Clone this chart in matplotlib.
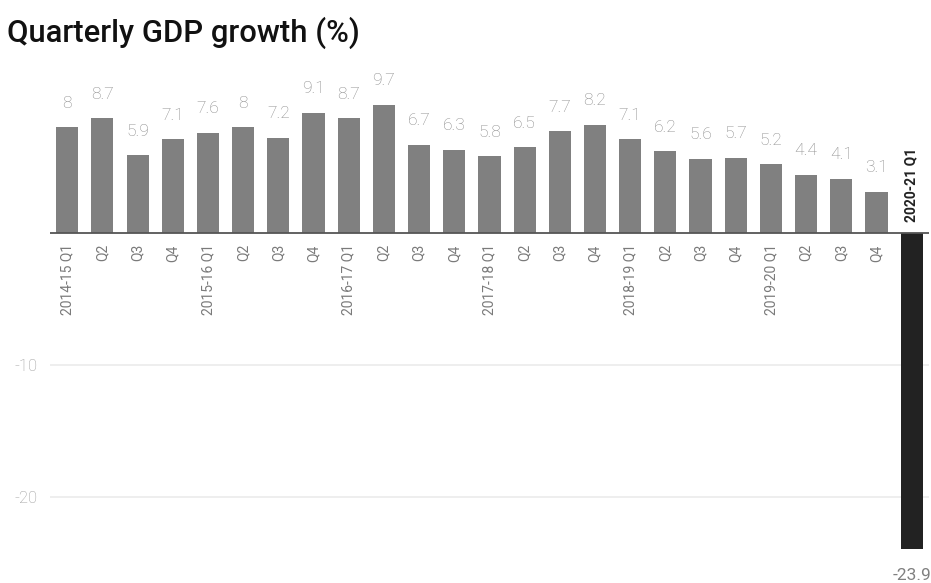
import matplotlib
matplotlib.use("Agg")
import matplotlib.pyplot as plt
import numpy as np

plt.rcParams['font.family'] = ['Roboto', 'DejaVu Sans']

quarters = ["2014-15 Q1", "Q2", "Q3", "Q4",
            "2015-16 Q1", "Q2", "Q3", "Q4",
            "2016-17 Q1", "Q2", "Q3", "Q4",
            "2017-18 Q1", "Q2", "Q3", "Q4",
            "2018-19 Q1", "Q2", "Q3", "Q4",
            "2019-20 Q1", "Q2", "Q3", "Q4",
            "2020-21 Q1"]
growth = [8, 8.7, 5.9, 7.1,
          7.6, 8, 7.2, 9.1,
          8.7, 9.7, 6.7, 6.3,
          5.8, 6.5, 7.7, 8.2,
          7.1, 6.2, 5.6, 5.7,
          5.2, 4.4, 4.1, 3.1,
          -23.9]

fig = plt.figure(figsize=(9.31, 5.83), dpi=100)
ax = fig.add_axes([0.0537, 0.034, 0.944, 0.838])

x = np.arange(len(growth))
colors = ['#808080'] * (len(growth) - 1) + ['#222222']
ax.bar(x, growth, width=0.63, color=colors, zorder=3)

ax.set_xlim(-0.49, len(growth) - 0.51)
ax.set_ylim(-25, 12)

ax.axhline(0, color='#555555', lw=1.3, zorder=4)
ax.set_yticks([-10, -20])
ax.set_yticklabels(['-10', '-20'], color='#999999', fontsize=12, fontweight='light')
ax.yaxis.grid(True, color='#ebebeb', lw=1.2, zorder=0)
ax.tick_params(axis='y', length=0, pad=9)
ax.set_xticks([])

for s in ax.spines.values():
    s.set_visible(False)

# value labels
for xi, v in zip(x, growth):
    if v >= 0:
        ax.annotate(f"{v:g}", (xi, v), xytext=(0, 12), textcoords='offset points',
                    ha='center', va='bottom', fontsize=12.5, color='#8a8a8a',
                    fontweight='light')
    else:
        ax.annotate(f"{v:g}", (xi, v), xytext=(0, -14), textcoords='offset points',
                    ha='center', va='top', fontsize=12.5, color='#808080',
                    annotation_clip=False)

# category labels along the zero line
for xi, q in zip(x[:-1], quarters[:-1]):
    ax.annotate(q, (xi, 0), xytext=(0, -8), textcoords='offset points',
                rotation=90, ha='center', va='top', fontsize=10, color='#7a7a7a')
ax.annotate(quarters[-1], (x[-1], 0), xytext=(0, 8), textcoords='offset points',
            rotation=90, ha='center', va='bottom', fontsize=10, fontweight='bold',
            color='#222222')

fig.text(0.008, 0.943, "Quarterly GDP growth (%)", fontsize=22.3, fontweight='medium',
         color='#111111', va='center', ha='left')

fig.savefig("out.png", dpi=100)
